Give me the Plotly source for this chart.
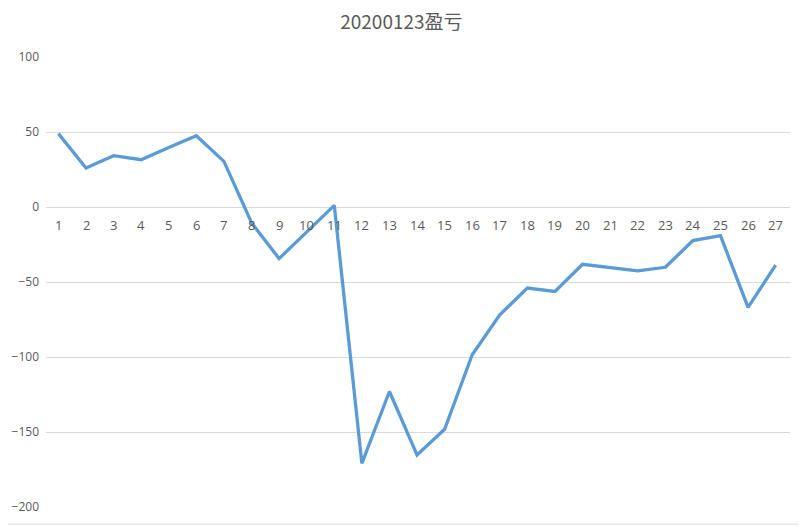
import plotly.graph_objects as go

title_text = "20200123盈亏"
categories = [str(i) for i in range(1, 28)]
values = [48.9, 26.0, 34.2, 31.5, 39.7, 47.5, 30.4, -10.5, -34.4, -16.6, 1.1,
          -170.9, -123.0, -165.3, -148.2, -98.5, -71.9, -54.0, -56.3, -38.2,
          -40.4, -42.6, -40.2, -22.4, -19.1, -66.9, -38.7]
y_ticks = [-200, -150, -100, -50, 0, 50, 100]

text_color = "#595959"
grid_color = "#D9D9D9"

fig = go.Figure()
fig.add_trace(go.Scatter(
    x=categories, y=values, mode="lines",
    line=dict(color="#5B9BD5", width=3.3),
    hoverinfo="x+y", showlegend=False,
))

# category labels placed along the zero line (Excel style axis crossing)
for i, c in enumerate(categories):
    fig.add_annotation(x=i, y=0, text=c, showarrow=False, yshift=-18,
                       font=dict(size=13, color=text_color,
                                 family="Open Sans, Noto Sans, sans-serif"))

fig.update_layout(
    width=798, height=519,
    margin=dict(l=38, r=16, t=49, b=20, autoexpand=False),
    paper_bgcolor="white", plot_bgcolor="white",
    title=dict(text=title_text, x=0.493, xanchor="center", y=0.972, yanchor="middle",
               font=dict(size=19, color=text_color,
                         family="Noto Sans CJK SC, Noto Sans, sans-serif")),
    xaxis=dict(type="category", showticklabels=False, showgrid=False,
               zeroline=False, showline=False, ticks="", automargin=False,
               range=[-0.45, len(categories) - 0.48]),
    yaxis=dict(range=[-200, 100], tickvals=y_ticks, showgrid=True,
               gridcolor=grid_color, gridwidth=1, zeroline=False,
               showline=False, ticks="", ticklabelstandoff=6, automargin=False,
               tickfont=dict(size=12, color=text_color,
                             family="Open Sans, Noto Sans, sans-serif")),
)

# faint border line of the neighbouring cell region at the bottom
fig.add_shape(type="line", xref="paper", yref="paper", x0=-0.06, x1=1.03,
              y0=-0.038, y1=-0.038, line=dict(color="#D9D9D9", width=1))

fig.write_html("out.html")
